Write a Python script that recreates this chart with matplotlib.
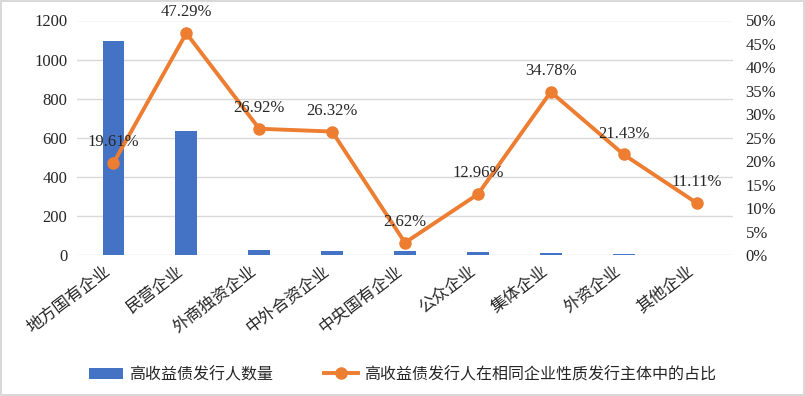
import matplotlib
matplotlib.use("Agg")
import matplotlib.pyplot as plt
from matplotlib.patches import Patch
from matplotlib.lines import Line2D
from matplotlib.ticker import FuncFormatter
import matplotlib.transforms as mtransforms

plt.rcParams['font.family'] = ['Liberation Serif', 'Noto Sans CJK SC', 'DejaVu Sans']

categories = ['地方国有企业', '民营企业', '外商独资企业', '中外合资企业', '中央国有企业',
              '公众企业', '集体企业', '外资企业', '其他企业']
counts = [1096, 637, 28, 20, 19, 14, 8, 6, 1]
shares = [19.61, 47.29, 26.92, 26.32, 2.62, 12.96, 34.78, 21.43, 11.11]
left_ticks = [0, 200, 400, 600, 800, 1000, 1200]
right_ticks = [0, 5, 10, 15, 20, 25, 30, 35, 40, 45, 50]
bar_label = '高收益债发行人数量'
line_label = '高收益债发行人在相同企业性质发行主体中的占比'

BLUE = '#4472C4'
ORANGE = '#ED7D31'
GRID = '#D9D9D9'
TXT = '#262626'

fig = plt.figure(figsize=(8.05, 3.96), dpi=100)
fig.patch.set_edgecolor(GRID)
fig.patch.set_linewidth(1.5)
ax = fig.add_axes([77/805, 1 - 255/396, (733-77)/805, (255-20.5)/396])
ax2 = ax.twinx()

x = list(range(len(categories)))
ax.bar(x, counts, width=0.3, color=BLUE, zorder=2)
ax.set_ylim(0, 1200)
ax.set_xlim(-0.5, len(categories) - 0.5)
ax.set_yticks(left_ticks)
ax.grid(axis='y', color=GRID, linewidth=1, zorder=0)
ax.set_axisbelow(True)
for s in ax.spines.values():
    s.set_visible(False)
for s in ax2.spines.values():
    s.set_visible(False)
ax.tick_params(axis='both', length=0, labelsize=12, colors=TXT)
ax.tick_params(axis='y', pad=7)
ax.set_xticks(x)
ax.set_xticklabels(categories, rotation=37, ha='right', rotation_mode='anchor', fontsize=12)
ax.tick_params(axis='x', pad=6)
shift = mtransforms.ScaledTranslation(-9/100, 0, fig.dpi_scale_trans)
for lab in ax.get_xticklabels():
    lab.set_transform(lab.get_transform() + shift)

ax2.plot(x, shares, color=ORANGE, linewidth=2.8, marker='o', markersize=8, zorder=3)
ax2.set_ylim(0, 50)
ax2.set_yticks(right_ticks)
ax2.yaxis.set_major_formatter(FuncFormatter(lambda v, p: f'{v:.0f}%'))
ax2.tick_params(axis='y', length=0, labelsize=12, colors=TXT, pad=9)
for xi, v in zip(x, shares):
    ax2.annotate(f'{v:.2f}%', (xi, v), xytext=(0, 15), textcoords='offset points',
                 ha='center', va='center', fontsize=12, color=TXT)

handles = [Patch(facecolor=BLUE, edgecolor='none'),
           Line2D([0], [0], color=ORANGE, linewidth=2.8, marker='o', markersize=8)]
fig.legend(handles, [bar_label, line_label], loc='center', bbox_to_anchor=(0.5, 1 - 375/396),
           ncol=2, frameon=False, fontsize=11.5, handlelength=2.1, handletextpad=0.4,
           columnspacing=3.2, labelcolor=TXT)

fig.savefig('out.png', dpi=100)
